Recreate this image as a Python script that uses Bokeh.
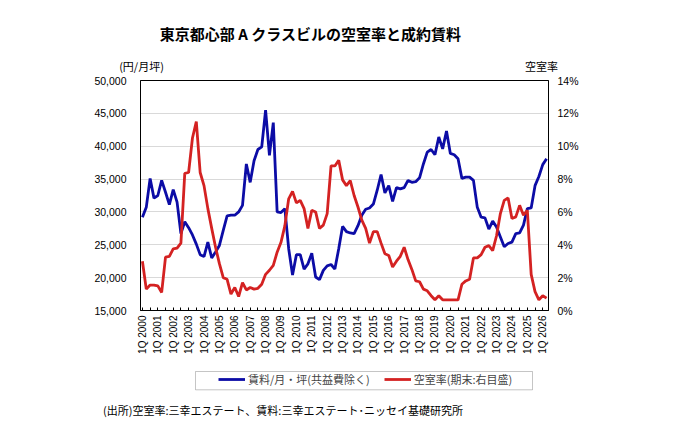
import math
from bokeh.plotting import figure
from bokeh.layouts import column
from bokeh.models import (Range1d, LinearAxis, FixedTicker, NumeralTickFormatter,
                          PrintfTickFormatter, Legend, LegendItem, BoxAnnotation)
from bokeh.embed import file_html
from bokeh.resources import INLINE

# ---------------- data ----------------
years = list(range(2000, 2027))
tick_labels = ["1Q %d" % y for y in years]

# quarterly, 1Q 2000 .. 2Q 2026
rent = [29200, 30700, 35100, 32100, 32500, 34800, 33000, 31100, 33400, 31500,
        26700, 28500, 27600, 26500, 25100, 23500, 23200, 25400, 23000, 23900,
        24900, 27200, 29400, 29500, 29500, 30000, 31000, 37300, 34500, 37800,
        39500, 39900, 45500, 38600, 43600, 30000, 29900, 30500, 24400, 20400,
        23500, 23500, 21300, 22100, 23700, 20100, 19700, 21100, 21800, 22000,
        21300, 24400, 27800, 27000, 26800, 26700, 27900, 29500, 30400, 30600,
        31200, 33300, 35700, 32900, 34000, 31600, 33700, 33500, 33700, 34800,
        34500, 34600, 35200, 37300, 39100, 39500, 38700, 41400, 39600, 42300,
        38900, 38700, 38100, 35100, 35300, 35300, 34800, 30700, 29200, 29100,
        27400, 28600, 27700, 26200, 24700, 25200, 25400, 26700, 26800, 28000,
        30500, 30600, 34000, 35400, 37200, 38100]

vacancy = [3.0, 1.3, 1.55, 1.55, 1.5, 1.1, 3.25, 3.3, 3.75, 3.8,
           4.1, 8.35, 8.4, 10.5, 11.5, 8.4, 7.6, 6.2, 5.0, 3.85,
           2.85, 2.0, 1.9, 1.0, 1.4, 0.85, 1.7, 1.25, 1.4, 1.3,
           1.35, 1.6, 2.2, 2.45, 2.75, 3.55, 4.15, 5.15, 6.8, 7.25,
           6.55, 6.7, 6.2, 5.0, 6.1, 6.0, 5.0, 5.2, 5.9, 8.8,
           8.8, 9.15, 7.95, 7.6, 7.9, 7.0, 6.3, 5.5, 5.0, 4.1,
           4.8, 4.8, 4.1, 3.45, 3.35, 2.65, 3.0, 3.3, 3.85, 3.1,
           2.5, 1.8, 1.75, 1.3, 1.2, 0.9, 0.65, 0.9, 0.65, 0.65,
           0.65, 0.65, 0.65, 1.6, 1.8, 1.9, 3.2, 3.2, 3.4, 3.85,
           3.95, 3.65, 4.55, 5.9, 6.7, 6.85, 5.6, 5.7, 6.4, 5.8,
           6.1, 2.2, 1.15, 0.65, 0.9, 0.75]

rent_ticks = [15000, 20000, 25000, 30000, 35000, 40000, 45000, 50000]
vac_ticks = [0, 2, 4, 6, 8, 10, 12, 14]

title_text = "東京都心部 A クラスビルの空室率と成約賃料"
rent_label = "賃料/月・坪(共益費除く)"
vac_label = "空室率(期末:右目盛)"
left_unit = "(円/月坪)"
right_unit = "空室率"
source_text = "(出所)空室率:三幸エステート、賃料:三幸エステート･ニッセイ基礎研究所"

BLUE = "#0C0CA6"
RED = "#D42222"
JP = "Noto Sans CJK JP"
NUM = "Liberation Sans"

x = list(range(len(rent)))

W = 672
FL, FR = 140, 548          # frame edges in page pixels
p = figure(width=W, height=360, output_backend="svg", toolbar_location=None,
           x_range=Range1d(-0.5, len(rent) - 0.5), y_range=Range1d(15000, 50000),
           min_border_left=FL, min_border_right=W - FR, min_border_top=80,
           min_border_bottom=50)
p.extra_y_ranges = {"vac": Range1d(0, 14)}
# helper range in page pixels, used only to place the free texts
p.extra_x_ranges = {"px": Range1d(FL, FR)}

p.outline_line_color = "black"
p.outline_line_width = 1
p.xgrid.grid_line_color = None
p.ygrid.grid_line_color = "#D9D9D9"
p.ygrid.ticker = FixedTicker(ticks=rent_ticks)

# x axis
xt = [i * 4 for i in range(len(tick_labels))]
p.xaxis.ticker = FixedTicker(ticks=xt, minor_ticks=[t + 2 for t in xt])
p.xaxis.major_label_overrides = {t: lab for t, lab in zip(xt, tick_labels)}
p.xaxis.major_label_orientation = math.pi / 2
p.xaxis.major_label_text_font = NUM
p.xaxis.major_label_text_font_size = "10px"
p.xaxis.major_label_text_color = "black"
p.xaxis.major_label_standoff = 5
p.xaxis.axis_line_color = "black"
p.xaxis.major_tick_in = 3
p.xaxis.major_tick_out = 0
p.xaxis.minor_tick_in = 3
p.xaxis.minor_tick_out = 0
p.xaxis.major_tick_line_color = "black"
p.xaxis.minor_tick_line_color = "black"

# left axis
p.yaxis.ticker = FixedTicker(ticks=rent_ticks)
p.yaxis.formatter = NumeralTickFormatter(format="0,0")
p.yaxis.major_label_text_font = NUM
p.yaxis.major_label_text_font_size = "10.5px"
p.yaxis.major_label_text_color = "black"
p.yaxis.major_tick_line_color = None
p.yaxis.minor_tick_line_color = None
p.yaxis.axis_line_color = "black"
p.yaxis.major_label_standoff = 8

# right axis
ra = LinearAxis(y_range_name="vac", ticker=FixedTicker(ticks=vac_ticks),
                formatter=PrintfTickFormatter(format="%d%%"))
ra.major_label_text_font = NUM
ra.major_label_text_font_size = "10.5px"
ra.major_label_text_color = "black"
ra.major_tick_line_color = None
ra.minor_tick_line_color = None
ra.axis_line_color = "black"
ra.major_label_standoff = 3
p.add_layout(ra, "right")


def text_axis(ticks, labels, size, bold=False, standoff=0, range_name="px"):
    kw = {"x_range_name": range_name} if range_name else {}
    ax = LinearAxis(ticker=FixedTicker(ticks=ticks),
                    major_label_overrides=dict(zip(ticks, labels)), **kw)
    ax.axis_line_color = None
    ax.major_tick_line_color = None
    ax.minor_tick_line_color = None
    ax.major_tick_out = 0
    ax.major_tick_in = 0
    ax.minor_tick_out = 0
    ax.minor_tick_in = 0
    ax.major_label_text_font = JP
    ax.major_label_text_font_size = size
    ax.major_label_text_color = "black"
    if bold:
        ax.major_label_text_font_style = "bold"
    ax.major_label_standoff = standoff
    return ax


# unit captions (row just above the frame), then the title
p.add_layout(text_axis([141, 541], [left_unit, right_unit], "11px", standoff=7), "above")
p.add_layout(text_axis([310], [title_text], "15px", bold=True, standoff=11), "above")

p.line(x, rent, line_color=BLUE, line_width=2.8)
p.line(x, vacancy, y_range_name="vac", line_color=RED, line_width=2.8)

# ---- legend strip + source note (second figure, page-pixel coordinates) ----
H2 = 72
TOP2 = 360                 # page y of this strip's top
FB2 = 396                  # page y of this strip's frame bottom
lf = figure(width=W, height=H2, output_backend="svg", toolbar_location=None,
            x_range=Range1d(FL, FR), y_range=Range1d(FB2, TOP2),
            x_axis_location=None, y_axis_location=None,
            min_border_left=FL, min_border_right=W - FR, min_border_top=0,
            min_border_bottom=TOP2 + H2 - FB2)
lf.outline_line_color = None
lf.xgrid.grid_line_color = None
lf.ygrid.grid_line_color = None

# invisible copies of the two series, only to give the legend its samples
g1 = lf.line(x, rent, line_color=BLUE, line_width=2.8, visible=False)
g2 = lf.line(x, vacancy, line_color=RED, line_width=2.8, visible=False)

lf.add_layout(BoxAnnotation(left=195, right=532, bottom=389.3, top=371,
                            fill_color=None, line_color="#404040", line_width=1))

legend = Legend(items=[LegendItem(label=rent_label, renderers=[g1]),
                       LegendItem(label=vac_label, renderers=[g2])],
                orientation="horizontal", location=(218 - FL, FB2 - 387),
                label_text_font=JP, label_text_font_size="11px",
                glyph_width=27, glyph_height=12, label_height=12,
                label_standoff=3, spacing=14, padding=0, margin=0,
                border_line_color=None, background_fill_color=None,
                click_policy="none")
lf.add_layout(legend, "center")

lf.add_layout(text_axis([282.5], [source_text], "11px", standoff=5, range_name=None), "below")

layout = column(p, lf, spacing=0)
open("out.html", "w").write(file_html(layout, INLINE))
